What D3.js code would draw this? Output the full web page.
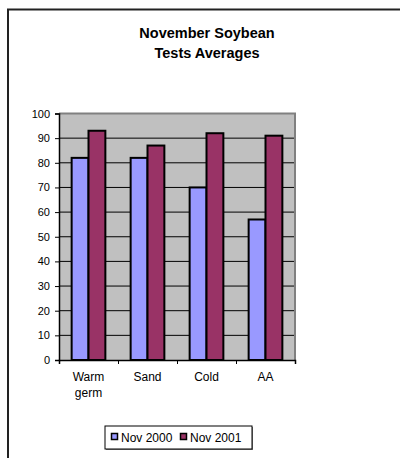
<!DOCTYPE html>
<html>
<head>
<meta charset="utf-8">
<script src="https://cdn.jsdelivr.net/npm/d3@7"></script>
<style>
  body { margin: 0; background: #fff; }
  text { font-family: "Liberation Sans", Arial, sans-serif; fill: #000; }
</style>
</head>
<body>
<div id="chart"></div>
<script>
// chart data
const categories = [["Warm", "germ"], ["Sand"], ["Cold"], ["AA"]];
const seriesNames = ["Nov 2000", "Nov 2001"];
const nov2000 = [82, 82, 70, 57];
const nov2001 = [93, 87, 92, 91];
const yTicks = [0, 10, 20, 30, 40, 50, 60, 70, 80, 90, 100];
const colors = ["#9999ff", "#993366"];

let width = 400, height = 458;
let margin = {top: 113.5, right: 105, bottom: 98, left: 59};

let svg = d3.select("#chart").append("svg")
    .attr("width", width)
    .attr("height", height);

// outer chart border (top + left only visible)
svg.append("path")
    .attr("d", "M8,458 V9.5 H400")
    .attr("fill", "none")
    .attr("stroke", "#222")
    .attr("stroke-width", 2);

// title
svg.append("text")
    .attr("x", 207).attr("y", 38)
    .attr("text-anchor", "middle")
    .style("font-size", "14.5px").style("font-weight", "bold")
    .text("November Soybean");
svg.append("text")
    .attr("x", 207).attr("y", 58)
    .attr("text-anchor", "middle")
    .style("font-size", "14.5px").style("font-weight", "bold")
    .text("Tests Averages");

let plotW = width - margin.left - margin.right;
let plotH = height - margin.top - margin.bottom;

let g = svg.append("g")
    .attr("transform", `translate(${margin.left},${margin.top})`);

let x0 = d3.scaleBand()
    .domain(d3.range(categories.length))
    .range([0, plotW]);

// Excel gap width 150% -> bars take 2/3.5 of the band
let x1 = d3.scaleBand()
    .domain([0, 1])
    .range([x0.bandwidth() * 0.75 / 3.5, x0.bandwidth() * (1 - 0.75 / 3.5)]);

let y = d3.scaleLinear()
    .domain([0, 100])
    .range([plotH, 0]);

// plot area background
g.append("rect")
    .attr("width", plotW).attr("height", plotH)
    .attr("fill", "#c0c0c0");

// gridlines
g.selectAll(".grid")
    .data(yTicks.slice(1, -1))
    .enter().append("line")
    .attr("class", "grid")
    .attr("x1", 0).attr("x2", plotW)
    .attr("y1", d => y(d)).attr("y2", d => y(d))
    .attr("stroke", "#000").attr("stroke-width", 1);

// plot area border top/right
g.append("path")
    .attr("d", `M0,${y(100)} H${plotW} V${plotH}`)
    .attr("fill", "none")
    .attr("stroke", "#808080")
    .attr("stroke-width", 2);

// bars
let rows = categories.map((c, i) => [nov2000[i], nov2001[i]]);
let groups = g.selectAll(".grp")
    .data(rows)
    .enter().append("g")
    .attr("transform", (d, i) => `translate(${x0(i)},0)`);

groups.selectAll("rect")
    .data(d => d)
    .enter().append("rect")
    .attr("x", (d, j) => x1(j))
    .attr("y", d => y(d))
    .attr("width", x1.bandwidth())
    .attr("height", d => plotH - y(d))
    .attr("fill", (d, j) => colors[j])
    .attr("stroke", "#000")
    .attr("stroke-width", 2);

// y axis
let yAxis = d3.axisLeft(y).tickValues(yTicks).tickSize(4).tickPadding(5);
let ya = g.append("g").call(yAxis);
ya.select(".domain").attr("stroke", "#000").attr("stroke-width", 1.5);
ya.selectAll("text").style("font-size", "11px").attr("fill", "#000");

// x axis
let xTickScale = d3.scaleLinear().domain([0, categories.length]).range([0, plotW]);
let xa = g.append("g")
    .attr("transform", `translate(0,${plotH})`)
    .call(d3.axisBottom(xTickScale).ticks(categories.length).tickSize(4).tickFormat(""));
xa.select(".domain").attr("stroke", "#000").attr("stroke-width", 1.5);

let xl = g.selectAll(".xl")
    .data(categories)
    .enter().append("text")
    .attr("x", (d, i) => x0(i) + x0.bandwidth() / 2)
    .attr("y", plotH + 21)
    .attr("text-anchor", "middle")
    .style("font-size", "12px");
xl.selectAll("tspan")
    .data(d => d)
    .enter().append("tspan")
    .attr("x", function () { return d3.select(this.parentNode).attr("x"); })
    .attr("dy", (d, i) => i === 0 ? 0 : 16)
    .text(d => d);

// legend
let lg = svg.append("g").attr("transform", "translate(105,426)");
lg.append("rect")
    .attr("x", 1).attr("y", 1).attr("width", 147).attr("height", 23)
    .attr("fill", "#808080");
lg.append("rect")
    .attr("width", 147).attr("height", 23)
    .attr("fill", "#fff").attr("stroke", "#000").attr("stroke-width", 1);
let li = lg.selectAll(".li")
    .data(seriesNames)
    .enter().append("g")
    .attr("transform", (d, i) => `translate(${6 + i * 69},0)`);
li.append("rect")
    .attr("x", 0.5).attr("y", 7.5).attr("width", 6).attr("height", 6)
    .attr("fill", (d, i) => colors[i])
    .attr("stroke", "#000").attr("stroke-width", 1.5);
li.append("text")
    .attr("x", 10).attr("y", 16)
    .style("font-size", "12px")
    .text(d => d);
</script>
</body>
</html>
